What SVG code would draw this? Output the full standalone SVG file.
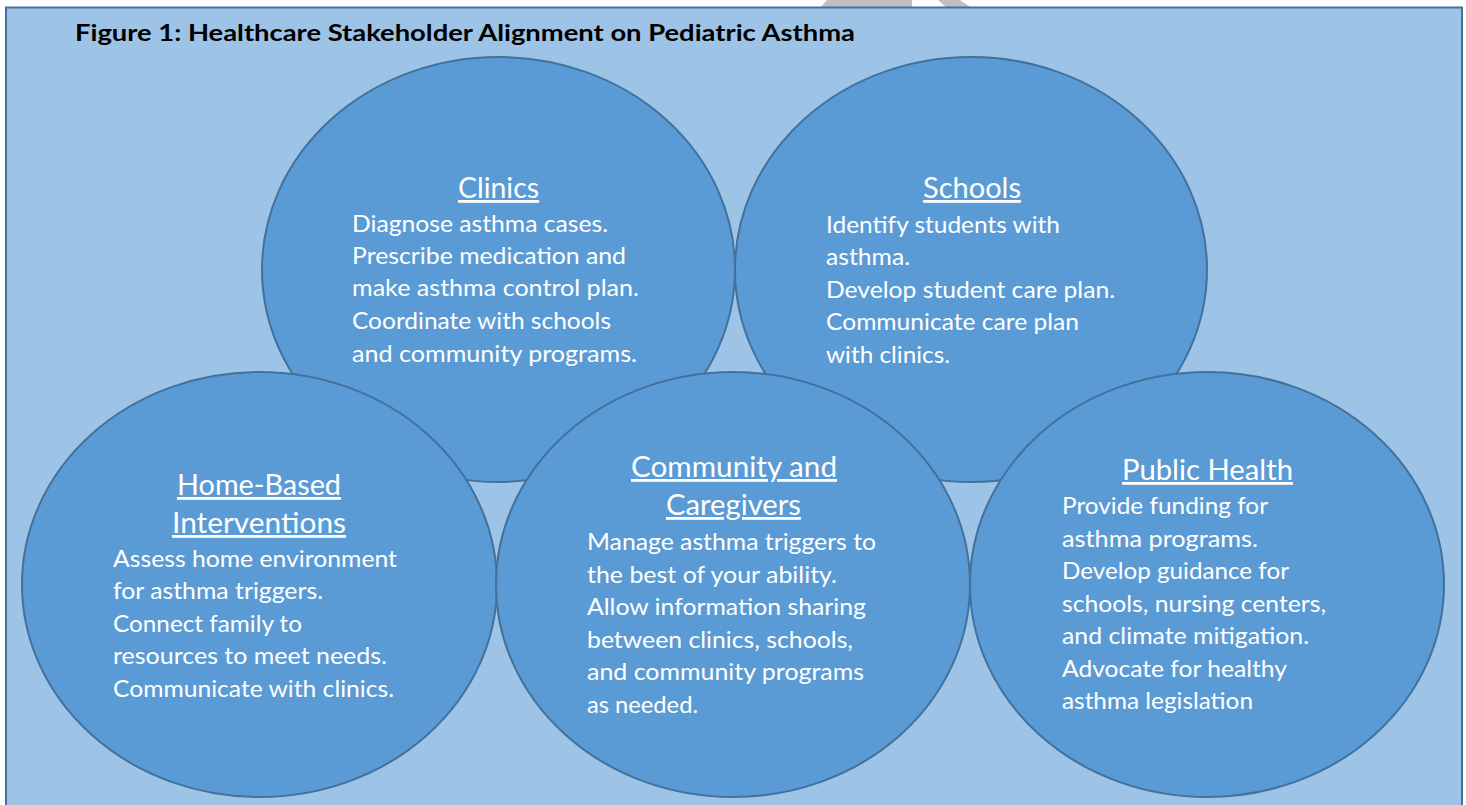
<svg xmlns="http://www.w3.org/2000/svg" width="1466" height="805" viewBox="0 0 1466 805">
  <style>
    .page { fill: #FFFFFF; }
    .mark { fill: #BFBFBF; }
    .panel { fill: #9DC3E6; stroke: #41719C; stroke-width: 2; }
    .node ellipse { fill: #5B9BD5; stroke: #41719C; stroke-width: 2; }
    text { font-family: Lato, "Liberation Sans", "DejaVu Sans", sans-serif; }
    .title { font-size: 23px; font-weight: bold; fill: #000000; }
    .h { font-size: 28px; fill: #FFFFFF; text-decoration: underline; }
    .b { font-size: 23px; fill: #FFFFFF; }
  </style>

  <!-- page and faint grey marks above the panel -->
  <rect class="page" x="0" y="0" width="1466" height="805"/>
  <polygon class="mark" points="820,8 827,0 912,0 912,8"/>
  <polygon class="mark" points="938,0 960,0 972,8 947,8"/>

  <!-- figure panel -->
  <rect class="panel" x="6" y="7.5" width="1456" height="820"/>
  <text class="title" x="75" y="41" textLength="780" lengthAdjust="spacingAndGlyphs">Figure 1: Healthcare Stakeholder Alignment on Pediatric Asthma</text>

  <!-- upper row -->
  <g id="clinics" class="node">
    <ellipse cx="498.5" cy="269.5" rx="236.5" ry="212.5"/>
    <text class="h" x="458" y="198" textLength="81" lengthAdjust="spacingAndGlyphs">Clinics</text>
    <text class="b" x="352" y="232" textLength="256" lengthAdjust="spacingAndGlyphs">Diagnose asthma cases.</text>
    <text class="b" x="352" y="264" textLength="274" lengthAdjust="spacingAndGlyphs">Prescribe medication and</text>
    <text class="b" x="352" y="296" textLength="287" lengthAdjust="spacingAndGlyphs">make asthma control plan.</text>
    <text class="b" x="352" y="329" textLength="259" lengthAdjust="spacingAndGlyphs">Coordinate with schools</text>
    <text class="b" x="352" y="362" textLength="285" lengthAdjust="spacingAndGlyphs">and community programs.</text>
  </g>

  <g id="schools" class="node">
    <ellipse cx="971" cy="269.5" rx="236" ry="212.5"/>
    <text class="h" x="923" y="198" textLength="98" lengthAdjust="spacingAndGlyphs">Schools</text>
    <text class="b" x="826" y="233" textLength="234" lengthAdjust="spacingAndGlyphs">Identify students with</text>
    <text class="b" x="826" y="265" textLength="84" lengthAdjust="spacingAndGlyphs">asthma.</text>
    <text class="b" x="826" y="298" textLength="289" lengthAdjust="spacingAndGlyphs">Develop student care plan.</text>
    <text class="b" x="826" y="330" textLength="253" lengthAdjust="spacingAndGlyphs">Communicate care plan</text>
    <text class="b" x="826" y="363" textLength="124" lengthAdjust="spacingAndGlyphs">with clinics.</text>
  </g>

  <!-- lower row -->
  <g id="home-based" class="node">
    <ellipse cx="259.5" cy="584.5" rx="237.5" ry="212.5"/>
    <text class="h" x="177" y="495" textLength="164" lengthAdjust="spacingAndGlyphs">Home-Based</text>
    <text class="h" x="172" y="533" textLength="174" lengthAdjust="spacingAndGlyphs">Interventions</text>
    <text class="b" x="113" y="567" textLength="284" lengthAdjust="spacingAndGlyphs">Assess home environment</text>
    <text class="b" x="113" y="599" textLength="210" lengthAdjust="spacingAndGlyphs">for asthma triggers.</text>
    <text class="b" x="113" y="632" textLength="189" lengthAdjust="spacingAndGlyphs">Connect family to</text>
    <text class="b" x="113" y="664" textLength="274" lengthAdjust="spacingAndGlyphs">resources to meet needs.</text>
    <text class="b" x="113" y="697" textLength="281" lengthAdjust="spacingAndGlyphs">Communicate with clinics.</text>
  </g>

  <g id="community" class="node">
    <ellipse cx="733" cy="584.5" rx="237" ry="212.5"/>
    <text class="h" x="631" y="477" textLength="206" lengthAdjust="spacingAndGlyphs">Community and</text>
    <text class="h" x="666" y="515" textLength="135" lengthAdjust="spacingAndGlyphs">Caregivers</text>
    <text class="b" x="587" y="550" textLength="289" lengthAdjust="spacingAndGlyphs">Manage asthma triggers to</text>
    <text class="b" x="587" y="583" textLength="250" lengthAdjust="spacingAndGlyphs">the best of your ability.</text>
    <text class="b" x="587" y="615" textLength="279" lengthAdjust="spacingAndGlyphs">Allow information sharing</text>
    <text class="b" x="587" y="648" textLength="266" lengthAdjust="spacingAndGlyphs">between clinics, schools,</text>
    <text class="b" x="587" y="680" textLength="277" lengthAdjust="spacingAndGlyphs">and community programs</text>
    <text class="b" x="587" y="713" textLength="111" lengthAdjust="spacingAndGlyphs">as needed.</text>
  </g>

  <g id="public-health" class="node">
    <ellipse cx="1207" cy="584.5" rx="237" ry="212.5"/>
    <text class="h" x="1122" y="480" textLength="171" lengthAdjust="spacingAndGlyphs">Public Health</text>
    <text class="b" x="1062" y="514" textLength="206" lengthAdjust="spacingAndGlyphs">Provide funding for</text>
    <text class="b" x="1062" y="547" textLength="196" lengthAdjust="spacingAndGlyphs">asthma programs.</text>
    <text class="b" x="1062" y="579" textLength="227" lengthAdjust="spacingAndGlyphs">Develop guidance for</text>
    <text class="b" x="1062" y="612" textLength="264" lengthAdjust="spacingAndGlyphs">schools, nursing centers,</text>
    <text class="b" x="1062" y="644" textLength="247" lengthAdjust="spacingAndGlyphs">and climate mitigation.</text>
    <text class="b" x="1062" y="677" textLength="225" lengthAdjust="spacingAndGlyphs">Advocate for healthy</text>
    <text class="b" x="1062" y="709" textLength="191" lengthAdjust="spacingAndGlyphs">asthma legislation</text>
  </g>
</svg>
